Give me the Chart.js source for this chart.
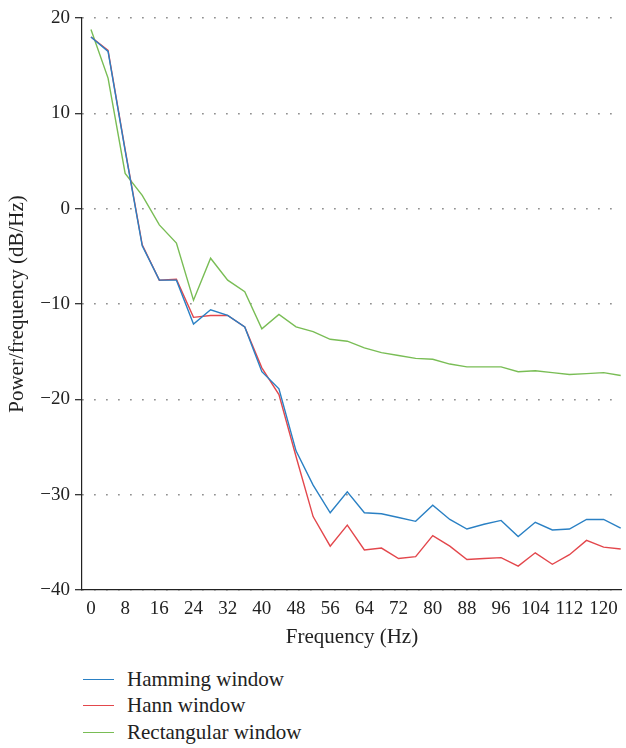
<!DOCTYPE html>
<html>
<head>
<meta charset="utf-8">
<script src="https://cdn.jsdelivr.net/npm/chart.js@4.4.1/dist/chart.umd.min.js"></script>
<style>
  body { margin: 0; background: #fff; }
  #wrap { position: relative; width: 626px; height: 748px; }
  #myChart { position: absolute; left: 0; top: 0; }
  #legend { position: absolute; left: 83px; top: 666px; font-family: "Liberation Serif", serif; font-size: 21px; color: #222; }
  .item { height: 26.5px; display: flex; align-items: center; }
  .swatch { width: 31px; height: 0; border-top: 1.6px solid; margin-right: 13px; }
</style>
</head>
<body>
<div id="wrap">
  <canvas id="myChart" width="626" height="660"></canvas>
  <div id="legend"></div>
</div>
<script>
// frequency bins (Hz), one every 4 Hz
const freqs = [0, 4, 8, 12, 16, 20, 24, 28, 32, 36, 40, 44, 48, 52, 56, 60,
               64, 68, 72, 76, 80, 84, 88, 92, 96, 100, 104, 108, 112, 116, 120, 124];
const hamming = [18.0, 16.5, 6.1, -3.9, -7.5, -7.5, -12.1, -10.6, -11.2, -12.4, -17.1, -18.9, -25.4, -29.0, -31.9, -29.7,
                 -31.9, -32.0, -32.4, -32.8, -31.1, -32.6, -33.6, -33.1, -32.7, -34.4, -32.9, -33.7, -33.6, -32.6, -32.6, -33.5];
const hann = [18.0, 16.6, 6.2, -3.8, -7.5, -7.4, -11.4, -11.2, -11.2, -12.4, -16.7, -19.5, -26.0, -32.3, -35.4, -33.2,
              -35.8, -35.6, -36.7, -36.5, -34.3, -35.4, -36.8, -36.7, -36.6, -37.5, -36.1, -37.3, -36.3, -34.8, -35.5, -35.7];
const rectangular = [18.8, 13.7, 3.7, 1.4, -1.7, -3.6, -9.6, -5.2, -7.5, -8.7, -12.6, -11.1, -12.4, -12.9, -13.7, -13.9,
                     -14.6, -15.1, -15.4, -15.7, -15.8, -16.3, -16.6, -16.6, -16.6, -17.1, -17.0, -17.2, -17.4, -17.3, -17.2, -17.5];
const xTicks = [0, 8, 16, 24, 32, 40, 48, 56, 64, 72, 80, 88, 96, 104, 112, 120];

const serif = '"Liberation Serif", "Times New Roman", serif';
const toPts = arr => arr.map((v, i) => ({ x: freqs[i], y: v }));

const ctx = document.getElementById('myChart');

const chart = new Chart(ctx, {
  type: 'line',
  data: {
    datasets: [
      { label: 'Hamming window', data: toPts(hamming), borderColor: '#2a80c4' },
      { label: 'Hann window', data: toPts(hann), borderColor: '#e3474c' },
      { label: 'Rectangular window', data: toPts(rectangular), borderColor: '#79bd55' }
    ]
  },
  options: {
    responsive: false,
    animation: false,
    elements: {
      line: { borderWidth: 1.4, tension: 0, fill: false },
      point: { radius: 0 }
    },
    layout: { padding: { top: 18, right: 4, left: 0, bottom: 0 } },
    plugins: { legend: { display: false }, tooltip: { enabled: false } },
    scales: {
      x: {
        type: 'linear',
        min: -2.1,
        max: 124.3,
        afterBuildTicks: scale => { scale.ticks = xTicks.map(v => ({ value: v })); },
        afterFit: scale => { scale.height = 70; },
        grid: { display: false, drawTicks: false },
        border: { display: true, color: '#222', width: 1.2 },
        ticks: { color: '#222', padding: 8, maxRotation: 0, autoSkip: false, font: { family: serif, size: 19 } },
        title: { display: true, text: 'Frequency (Hz)', color: '#222', padding: { top: 2, bottom: 10 }, font: { family: serif, size: 21 } }
      },
      y: {
        min: -40,
        max: 20,
        afterFit: scale => { scale.width = 82; },
        grid: { color: '#777', lineWidth: 1.4, tickLength: 7, tickColor: '#222', tickWidth: 1.2 },
        border: { display: true, color: '#222', width: 1.2, dash: [1.4, 10.6] },
        ticks: {
          stepSize: 10, color: '#222', padding: 5,
          font: { family: serif, size: 19 },
          callback: v => String(v).replace('-', '\u2212')
        },
        title: { display: true, text: 'Power/frequency (dB/Hz)', color: '#222', padding: { top: 5, bottom: 2 }, font: { family: serif, size: 21 } }
      }
    }
  }
});

// legend as a vertical list under the chart
const legend = document.getElementById('legend');
chart.data.datasets.forEach(ds => {
  const row = document.createElement('div');
  row.className = 'item';
  const sw = document.createElement('span');
  sw.className = 'swatch';
  sw.style.borderColor = ds.borderColor;
  const txt = document.createElement('span');
  txt.textContent = ds.label;
  row.appendChild(sw);
  row.appendChild(txt);
  legend.appendChild(row);
});
</script>
</body>
</html>
